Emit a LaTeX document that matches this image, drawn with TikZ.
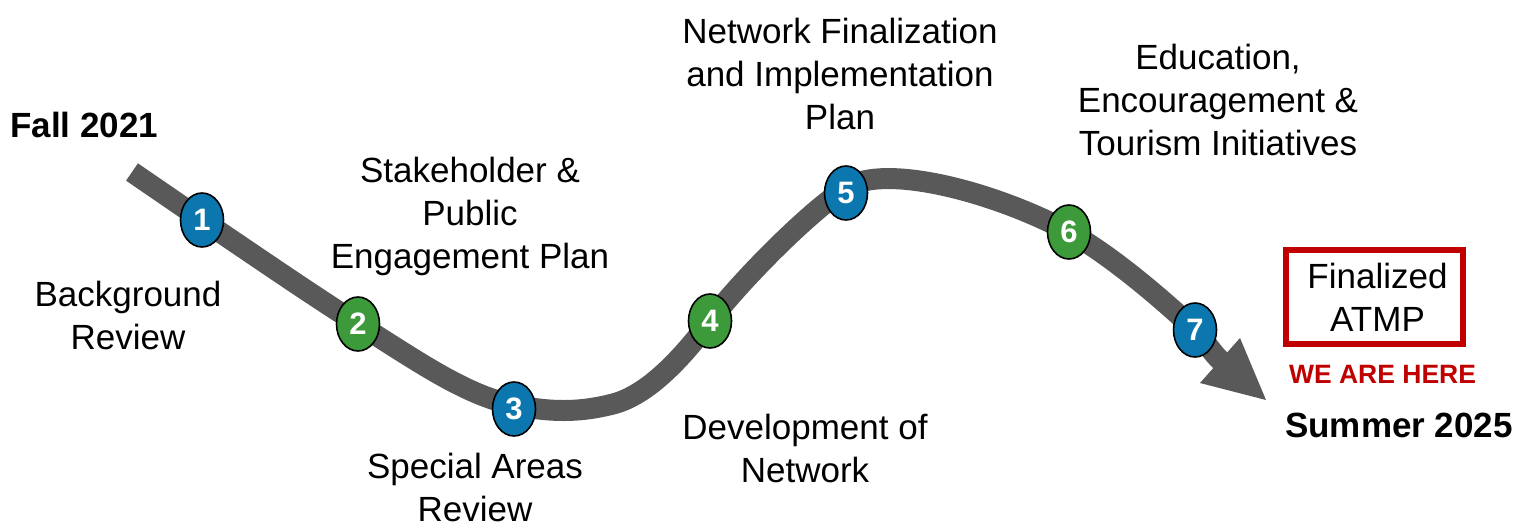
\documentclass[tikz,border=0pt]{standalone}
\usepackage{fontspec}
\setmainfont{Liberation Sans}
\usepackage{xcolor}
\usetikzlibrary{positioning, shapes.geometric}

\definecolor{trackgray}{HTML}{595959}
\definecolor{stepblue}{HTML}{0B77AE}
\definecolor{stepgreen}{HTML}{3D9A3B}
\definecolor{herered}{HTML}{C00000}

\begin{document}
\begin{tikzpicture}[x=1pt,y=-1pt,
    track/.style={draw=trackgray, line width=21pt},
    milestone/.style={ellipse, draw=black, line width=1.6pt, minimum width=43pt, minimum height=54pt,
                      inner sep=0pt, text=white, font=\fontsize{31}{31}\selectfont\bfseries},
    bluestep/.style={milestone, fill=stepblue},
    greenstep/.style={milestone, fill=stepgreen},
    phase/.style={font=\fontsize{35}{43}\selectfont, align=center, inner sep=0pt, anchor=north},
    datetext/.style={font=\fontsize{35}{43}\selectfont\bfseries, inner sep=0pt, anchor=base west}]
    \useasboundingbox (0,0) rectangle (1538,527);

    % points of the track
    \coordinate (start) at (132,172);
    \coordinate (low) at (613,404);
    \coordinate (base) at (1222,362);
    \coordinate (tip) at (1266,400);
    \foreach \n/\x/\y in {1/202/220, 2/358/324, 3/514/405, 4/710/321, 5/846/188, 6/1069/232, 7/1195/330}
        \coordinate (p\n) at (\x,\y);

    \draw[track] (start) -- (p1)
        .. controls +(52,35) and +(-52,-33) .. (p2)
        .. controls +(55,34) and +(-50,-10) .. (p3)
        .. controls +(35,7) and +(-35,9) .. (low)
        .. controls +(35,-9) and +(-28,37) .. (p4)
        .. controls +(28,-37) and +(-40,26) .. (p5)
        .. controls +(40,-26) and +(-70,-38) .. (p6)
        .. controls +(40,22) and +(-35,-33) .. (p7)
        .. controls +(12,13) and +(-10,-9) .. (base);
    \fill[trackgray] (1240,338) -- (tip) -- (1200,383) -- cycle;

    % milestones
    \node[bluestep]  (m1) at (p1) {1};
    \node[greenstep] (m2) at (p2) {2};
    \node[bluestep]  (m3) at ([yshift=-4pt]p3) {3};
    \node[greenstep] (m4) at (p4) {4};
    \node[bluestep]  (m5) at ([yshift=-5pt]p5) {5};
    \node[greenstep] (m6) at (p6) {6};
    \node[bluestep]  (m7) at (p7) {7};

    % phase labels
    \node[phase] (background) at (128,281) {Background\\Review};
    \node[phase] (stakeholder) at (470,157) {Stakeholder \&\\Public\\Engagement Plan};
    \node[phase] (special) at (475,453) {Special Areas\\Review};
    \node[phase] (development) at (805,414) {Development of\\Network};
    \node[phase] (finalization) at (840,18) {Network Finalization\\and Implementation\\Plan};
    \node[phase] (education) at (1218,44) {Education,\\Encouragement \&\\Tourism Initiatives};

    % dates and goal
    \node[datetext] (fall) at (10,137) {Fall 2021};
    \node[datetext] (summer) at (1285,437) {Summer 2025};
    \node[draw=herered, line width=6pt, minimum width=177pt, minimum height=94pt, inner sep=0pt,
          font=\fontsize{35}{43}\selectfont, align=center] (goal) at (1374.5,297) {\hspace{6pt}Finalized\\\hspace{6pt}ATMP};
    \node[below=18pt of goal, xshift=8pt, inner sep=0pt, text=herered,
          font=\fontsize{26.5}{30}\selectfont\bfseries] (here) {WE ARE HERE};
\end{tikzpicture}
\end{document}
